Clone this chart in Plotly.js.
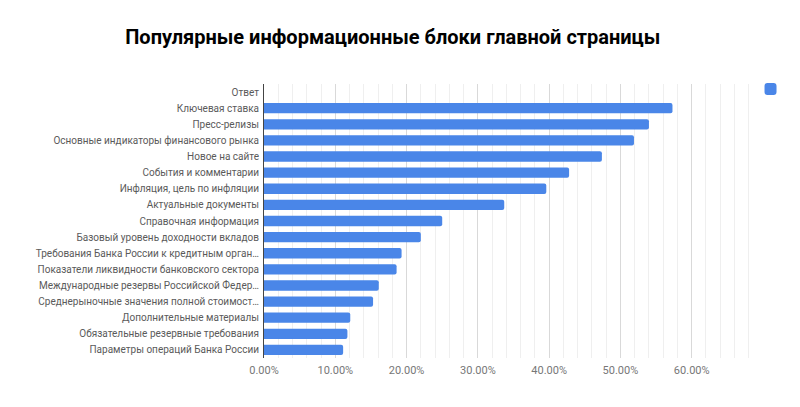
<!DOCTYPE html>
<html>
<head>
<meta charset="utf-8">
<script src="https://cdn.plot.ly/plotly-3.0.1.min.js"></script>
<style>
  html, body { margin: 0; padding: 0; background: #fff; }
  #chart { width: 800px; height: 407px; }
</style>
</head>
<body>
<div id="chart"></div>
<script>
// categories top to bottom, shares
const blocks = [
    'Ответ',
    'Ключевая ставка',
    'Пресс-релизы',
    'Основные индикаторы финансового рынка',
    'Новое на сайте',
    'События и комментарии',
    'Инфляция, цель по инфляции',
    'Актуальные документы',
    'Справочная информация',
    'Базовый уровень доходности вкладов',
    'Требования Банка России к кредитным орган…',
    'Показатели ликвидности банковского сектора',
    'Международные резервы Российской Федер…',
    'Среднерыночные значения полной стоимост…',
    'Дополнительные материалы',
    'Обязательные резервные требования',
    'Параметры операций Банка России'
];
const share = [null, 0.573, 0.540, 0.519, 0.474, 0.428, 0.396, 0.337, 0.250, 0.220, 0.193, 0.186, 0.161, 0.153, 0.121, 0.117, 0.111];

const tickVals = [0, 0.1, 0.2, 0.3, 0.4, 0.5, 0.6];
const tickText = ['0.00%', '10.00%', '20.00%', '30.00%', '40.00%', '50.00%', '60.00%'];

const plot_data = [{
    type: 'bar',
    orientation: 'h',
    x: share,
    y: blocks,
    name: ' ',
    width: 0.64,
    marker: {color: '#4a86e8', cornerradius: 2},
    hoverinfo: 'x+y'
}];

const layout = {
    width: 800,
    height: 407,
    margin: {l: 264, r: 37, t: 84, b: 49, autoexpand: false},
    paper_bgcolor: '#fff',
    plot_bgcolor: '#fff',
    font: {family: 'Roboto, Arial, sans-serif', size: 10, color: '#666'},
    title: {
        text: '<b>Популярные информационные блоки главной страницы</b>',
        font: {family: 'Roboto, Arial, sans-serif', size: 20, color: '#000'},
        x: 0.491, xanchor: 'center',
        y: 0.91, yanchor: 'middle'
    },
    xaxis: {
        range: [0, 0.70],
        tickvals: tickVals,
        ticktext: tickText,
        showgrid: true,
        gridcolor: '#d9d9d9',
        gridwidth: 1,
        minor: {dtick: 0.02, tick0: 0, showgrid: true, gridcolor: '#efefef', gridwidth: 1},
        zeroline: false,
        showline: false,
        ticks: '',
        ticklabelstandoff: 4,
        tickfont: {size: 11, color: '#777'},
        fixedrange: true
    },
    yaxis: {
        autorange: 'reversed',
        showline: true,
        linecolor: '#444',
        linewidth: 1,
        showgrid: false,
        ticks: '',
        ticklabelstandoff: 2,
        tickfont: {size: 10, color: '#5a5a5a'},
        fixedrange: true
    },
    showlegend: true,
    legend: {
        x: 0.975, xanchor: 'left',
        y: 1.035, yanchor: 'top',
        bgcolor: 'rgba(0,0,0,0)',
        font: {size: 10}
    },
    bargap: 0.36
};

Plotly.newPlot('chart', plot_data, layout, {displayModeBar: false, staticPlot: true});
</script>
</body>
</html>
